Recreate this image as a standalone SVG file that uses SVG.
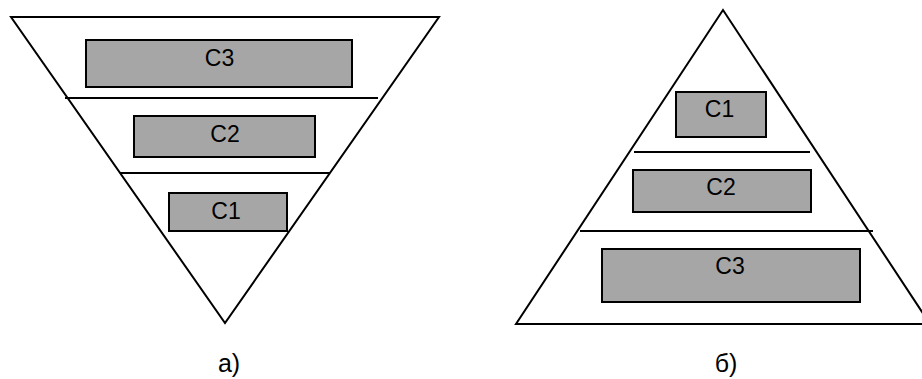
<svg xmlns="http://www.w3.org/2000/svg" width="922" height="379" viewBox="0 0 922 379">
<style>
.tri{fill:none;stroke:#000;stroke-width:2}
.ln{stroke:#000;stroke-width:2}
.box rect{fill:#a6a6a6;stroke:#000;stroke-width:2}
text{font-family:"Liberation Sans",Arial,sans-serif;font-size:23px;fill:#000;text-anchor:middle}
.lbl{font-size:25px}
</style>
<rect width="922" height="379" fill="#fff"/>
<g id="pyramid-a">
<polygon class="tri" points="11,17 439,17 225,323"/>
<line class="ln" x1="65" y1="98" x2="378" y2="98"/>
<line class="ln" x1="120" y1="173" x2="330" y2="173"/>
</g>
<g id="a-C3" class="box"><rect x="86" y="40" width="266" height="47"/><text x="219.5" y="66">C3</text></g>
<g id="a-C2" class="box"><rect x="134" y="116" width="181" height="41"/><text x="225" y="142">C2</text></g>
<g id="a-C1" class="box"><rect x="169" y="193" width="118" height="38"/><text x="226" y="219">C1</text></g>
<text id="label-a" class="lbl" x="229" y="372">а)</text>
<g id="pyramid-b">
<polygon class="tri" points="723,10 930,324 516,324"/>
<line class="ln" x1="634" y1="152" x2="810" y2="152"/>
<line class="ln" x1="580" y1="231" x2="873" y2="231"/>
</g>
<g id="b-C1" class="box"><rect x="676" y="92" width="90" height="45"/><text x="719.5" y="117">C1</text></g>
<g id="b-C2" class="box"><rect x="633" y="170" width="178" height="42"/><text x="721" y="195">C2</text></g>
<g id="b-C3" class="box"><rect x="602" y="249" width="258" height="53"/><text x="730" y="274">C3</text></g>
<text id="label-b" class="lbl" x="726" y="372">б)</text>
</svg>
